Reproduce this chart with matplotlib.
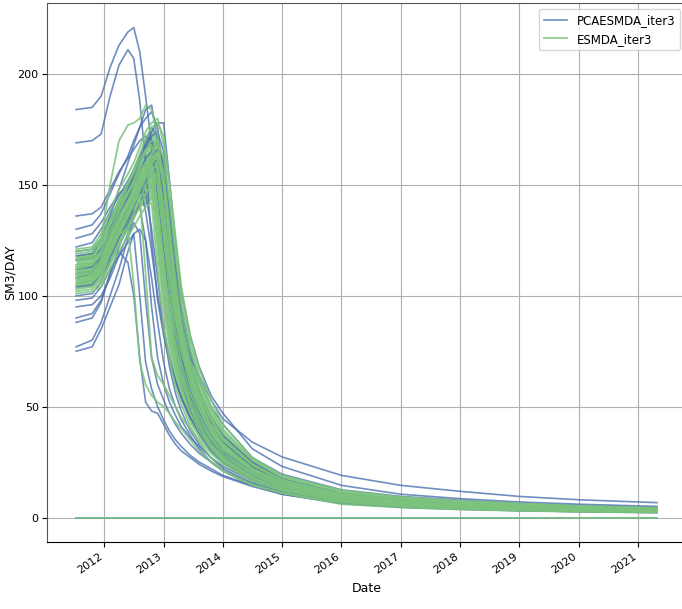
import numpy as np
import pandas as pd
import matplotlib
matplotlib.use("Agg")
import matplotlib.pyplot as plt
import matplotlib.dates as mdates

# time axis shared by all realizations
dates = ["2011-07-12", "2011-10-19", "2011-12-13", "2012-02-06", "2012-04-01",
         "2012-05-26", "2012-07-01", "2012-08-07", "2012-09-12", "2012-10-19",
         "2012-11-25", "2013-01-01", "2013-02-06", "2013-03-15", "2013-04-20",
         "2013-06-14", "2013-08-08", "2013-10-20", "2014-01-01", "2014-07-01",
         "2015-01-01", "2016-01-01", "2017-01-01", "2018-01-01", "2019-01-01",
         "2020-01-01", "2021-04-27"]

# PCAESMDA_iter3 realizations (SM3/DAY)
pca_rates = [
    [184, 185, 190, 203, 213, 219, 221, 210, 190, 168, 145, 122, 105, 92, 85, 72, 64, 53, 44.5, 34, 27.3, 19, 14.5, 11.8, 9.5, 8, 6.7],
    [169, 170, 173, 190, 204, 211, 207, 188, 160, 125, 98, 82, 70, 61, 54, 45, 40, 34, 29, 21, 16, 10, 7.5, 6, 5, 4.3, 3.6],
    [88, 90, 97, 110, 120, 115, 100, 72, 52, 48, 47, 42, 37, 33, 30, 27, 24, 21, 18.5, 14, 10.5, 6.5, 4.8, 3.8, 3.1, 2.7, 2.3],
    [75, 77, 85, 95, 105, 120, 128, 100, 70, 58, 50, 44, 39, 35, 32, 28, 25, 22, 19, 14.5, 11, 6.8, 5, 4, 3.3, 2.9, 2.4],
    [77, 80, 88, 100, 112, 126, 133, 128, 98, 72, 60, 53, 47, 42, 38, 33, 29, 25, 21, 15.5, 11.5, 7, 5.2, 4.2, 3.5, 3, 2.5],
    [90, 92, 98, 110, 122, 132, 138, 140, 125, 95, 72, 60, 52, 46, 41, 36, 32, 27, 23, 16.5, 12, 7.5, 5.5, 4.4, 3.6, 3.1, 2.6],
    [122, 124, 130, 138, 145, 152, 157, 163, 170, 176, 172, 150, 118, 92, 75, 60, 50, 40, 33, 23, 16, 10, 7.5, 6, 5, 4.3, 3.6],
    [116, 117, 121, 128, 136, 145, 152, 160, 168, 174, 178, 178, 152, 125, 102, 82, 68, 55, 47, 31, 23, 14.5, 10.5, 8.5, 7, 6, 5.0],
    [108, 110, 118, 130, 140, 148, 154, 160, 166, 170, 168, 160, 140, 115, 95, 75, 62, 50, 42, 27, 19.5, 12.5, 9.5, 7.8, 6.3, 5.4, 4.6],
    [100, 101, 106, 117, 126, 134, 140, 146, 152, 158, 162, 150, 120, 92, 72, 55, 45, 35, 28, 19, 13, 8, 6, 4.8, 4, 3.4, 2.9],
    [112, 113, 118, 128, 137, 144, 150, 156, 162, 165, 155, 125, 95, 75, 62, 48, 39, 31, 25, 17, 12.5, 7.5, 5.6, 4.5, 3.7, 3.2, 2.7],
    [126, 128, 133, 140, 146, 150, 153, 150, 138, 120, 100, 85, 72, 62, 54, 45, 38, 30, 25, 17, 12, 7.5, 5.5, 4.4, 3.6, 3.1, 2.7],
    [130, 132, 137, 146, 155, 163, 170, 176, 180, 183, 176, 152, 120, 95, 78, 62, 51, 41, 34, 23, 16.5, 10.5, 7.8, 6.2, 5.1, 4.4, 3.7],
    [118, 119, 125, 136, 148, 160, 168, 176, 184, 186, 170, 140, 110, 88, 72, 57, 47, 37, 30, 20.5, 14.5, 9, 6.7, 5.4, 4.4, 3.8, 3.2],
    [104, 105, 110, 120, 130, 138, 143, 148, 155, 162, 166, 160, 135, 108, 88, 68, 55, 43, 36, 24, 17, 10.5, 7.8, 6.3, 5.2, 4.5, 3.8],
    [95, 96, 100, 108, 118, 128, 135, 142, 150, 155, 158, 145, 115, 88, 70, 54, 44, 34, 28, 19, 13.5, 8.2, 6, 4.8, 4, 3.4, 2.9],
    [136, 137, 140, 148, 156, 162, 166, 170, 172, 170, 160, 135, 105, 82, 66, 52, 42, 33, 27, 18.5, 13, 8, 6, 4.8, 3.9, 3.3, 2.8],
    [98, 99, 104, 112, 118, 124, 128, 130, 125, 108, 88, 70, 58, 50, 44, 37, 31, 25, 21, 14.5, 10.5, 6.3, 4.6, 3.7, 3.1, 2.6, 2.2],
    [120, 121, 126, 135, 143, 150, 155, 161, 167, 172, 174, 165, 140, 112, 90, 70, 57, 45, 37, 25, 17.5, 11, 8.2, 6.5, 5.4, 4.6, 3.9],
    [110, 111, 115, 123, 131, 139, 145, 150, 146, 130, 108, 85, 68, 56, 48, 39, 33, 27, 22, 15.5, 11, 6.8, 5, 4, 3.3, 2.8, 2.4],
    [0] * 27,
]

# ESMDA_iter3 realizations (SM3/DAY)
esmda_rates = [
    [101, 102, 104, 112, 120, 127, 131, 136, 140, 142, 112, 86, 71, 59, 51, 41, 34, 27, 21, 14.5, 11, 6, 4.5, 3.6, 3, 2.6, 2.2],
    [121, 122, 128, 138, 148, 155, 160, 167, 174, 178, 180, 168, 150, 127, 104, 82, 67, 53, 42, 27, 19, 12.3, 9.3, 7.6, 6.3, 5.3, 4.4],
    [111, 112, 116, 125, 134, 141, 146, 152, 157, 160, 150, 128, 108, 90, 76, 61, 50, 40, 31, 21, 15, 9, 6.8, 5.5, 4.6, 3.9, 3.3],
    [105, 106, 110, 119, 128, 136, 142, 149, 156, 162, 165, 155, 132, 108, 88, 70, 57, 45, 36, 24, 17, 10.5, 7.8, 6.3, 5.2, 4.4, 3.7],
    [117, 118, 123, 132, 140, 146, 150, 154, 155, 150, 125, 100, 82, 68, 58, 47, 39, 31, 25, 17, 12.5, 7.5, 5.6, 4.5, 3.7, 3.2, 2.7],
    [108, 109, 113, 121, 129, 136, 141, 147, 153, 158, 158, 140, 115, 95, 80, 64, 52, 41, 33, 22, 15.5, 9.5, 7, 5.7, 4.7, 4, 3.4],
    [114, 115, 120, 129, 138, 146, 152, 159, 165, 170, 168, 150, 125, 102, 84, 67, 55, 44, 35, 23.5, 16.5, 10.2, 7.6, 6.1, 5, 4.3, 3.6],
    [103, 104, 107, 115, 123, 130, 135, 140, 146, 150, 140, 115, 93, 76, 64, 51, 42, 33, 27, 18, 13, 7.8, 5.8, 4.7, 3.8, 3.3, 2.8],
    [119, 120, 125, 134, 143, 150, 155, 161, 166, 168, 160, 138, 114, 94, 78, 62, 51, 41, 33, 22, 15.8, 9.8, 7.2, 5.8, 4.8, 4.1, 3.5],
    [110, 111, 115, 124, 133, 140, 145, 150, 154, 155, 135, 108, 88, 73, 62, 50, 41, 33, 26.5, 18, 13, 7.8, 5.8, 4.7, 3.9, 3.3, 2.8],
    [106, 107, 111, 120, 130, 138, 144, 151, 158, 164, 170, 162, 142, 118, 96, 76, 62, 49, 39, 26, 18.2, 11.3, 8.5, 6.9, 5.7, 4.8, 4.1],
    [113, 114, 118, 127, 136, 143, 148, 154, 160, 164, 156, 134, 110, 90, 75, 60, 49, 39, 31.5, 21, 15, 9.2, 6.8, 5.5, 4.5, 3.9, 3.3],
    [112, 114, 126, 150, 170, 177, 178, 180, 186, 184, 172, 150, 122, 98, 80, 64, 52, 41, 33, 22, 15.5, 9.5, 7, 5.7, 4.7, 4, 3.4],
    [105, 107, 112, 122, 128, 130, 105, 70, 60, 55, 52, 50, 47, 43, 40, 35, 30, 25, 21, 15, 11, 6.8, 5.1, 4.1, 3.4, 2.9, 2.5],
    [109, 110, 114, 123, 131, 138, 142, 145, 110, 72, 64, 60, 55, 50, 45, 40, 35, 29, 24, 16.5, 12, 7.2, 5.3, 4.3, 3.5, 3, 2.6],
    [116, 117, 123, 133, 143, 151, 157, 164, 171, 176, 178, 172, 150, 124, 100, 79, 64, 50, 40, 26, 18.5, 11.8, 8.9, 7.2, 6, 5.1, 4.3],
    [102, 103, 106, 114, 123, 131, 137, 143, 150, 155, 150, 126, 102, 84, 70, 56, 46, 36.5, 29.5, 20, 14.3, 8.7, 6.4, 5.2, 4.3, 3.6, 3.1],
    [120, 121, 126, 134, 141, 147, 151, 156, 160, 158, 140, 114, 94, 78, 66, 53, 44, 35, 28, 19, 13.8, 8.3, 6.2, 5, 4.1, 3.5, 3],
    [107, 108, 112, 121, 130, 137, 143, 149, 155, 160, 163, 150, 126, 103, 85, 68, 55, 44, 35.5, 24, 17, 10.5, 7.8, 6.3, 5.2, 4.4, 3.8],
    [0] * 27,
]

BLUE = "#4c72b0"
GREEN = "#7cc47c"


def main():
    t = pd.to_datetime(dates)

    fig = plt.figure(figsize=(6.82, 6.09), dpi=100)
    ax = fig.add_axes([0.069, 0.110, 0.937, 0.885])

    for i, r in enumerate(pca_rates):
        ax.plot(t, r, color=BLUE, lw=1.2, alpha=0.8,
                label="PCAESMDA_iter3" if i == 0 else None)

    # dense ESMDA band: most realizations overlap, so shade the inner spread
    g = np.array([r for r in esmda_rates if max(r) > 0])
    ax.fill_between(t, np.percentile(g, 12, axis=0), np.percentile(g, 88, axis=0),
                    color=GREEN, alpha=0.85, lw=0)
    for i, r in enumerate(esmda_rates):
        ax.plot(t, r, color=GREEN, lw=1.3, alpha=0.85,
                label="ESMDA_iter3" if i == 0 else None)

    ax.xaxis.set_major_locator(mdates.YearLocator())
    ax.xaxis.set_major_formatter(mdates.DateFormatter("%Y"))
    for lbl in ax.get_xticklabels():
        lbl.set_rotation(35)
        lbl.set_ha("right")
    ax.tick_params(labelsize=8)
    ax.tick_params(axis="y", pad=2.5)
    ax.grid(True, color="#b0b0b0", lw=0.8)
    ax.set_xlabel("Date", fontsize=9)
    ax.set_ylabel("SM3/DAY", fontsize=9)
    ax.yaxis.set_label_coords(-0.047, 0.5)
    ax.legend(loc="upper right", fontsize=8.5)
    for s in ["top", "left"]:
        ax.spines[s].set_color("#555555")

    fig.savefig("out.png", dpi=100)
    plt.close(fig)


if __name__ == "__main__":
    main()
